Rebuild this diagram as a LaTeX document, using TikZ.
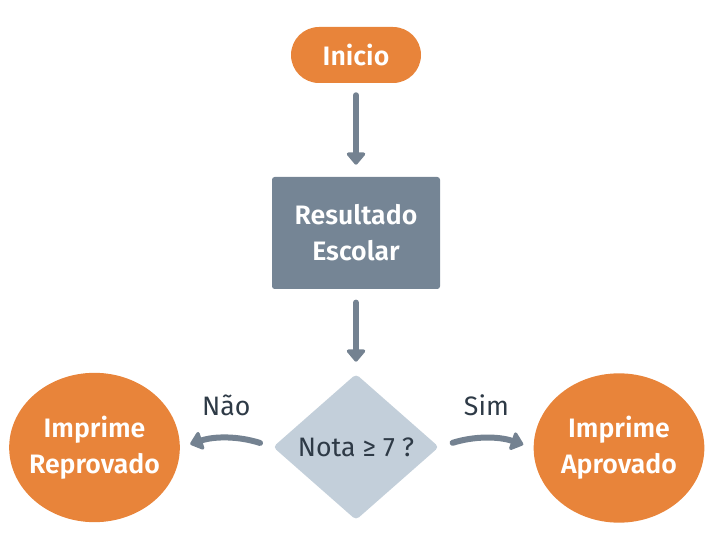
\documentclass[tikz,border=0pt]{standalone}
\usepackage{fontspec}
\setmainfont{Fira Sans}[BoldFont = * SemiBold]
\usetikzlibrary{arrows.meta, shapes.geometric, positioning}
\definecolor{orangefill}{HTML}{E8843A}
\definecolor{slatebox}{HTML}{758595}
\definecolor{diamondfill}{HTML}{C3CFDA}
\definecolor{arrowgray}{HTML}{748291}
\definecolor{textdark}{HTML}{2E3A46}

\begin{document}
\begin{tikzpicture}[x = 0.75pt, y = -0.75pt,
  every node/.style = {font = \fontsize{20}{27}\selectfont, align = center, inner sep = 0pt},
  whitetext/.style = {text = white, font = \fontsize{20}{27}\selectfont\bfseries},
  startnode/.style = {whitetext, fill = orangefill, rounded corners = 21pt, minimum width = 97.5pt, minimum height = 42pt},
  procbox/.style = {whitetext, fill = slatebox, rounded corners = 2pt, minimum width = 126pt, minimum height = 84pt},
  decision/.style = {diamond, fill = diamondfill, text = textdark, rounded corners = 3pt, minimum width = 124.5pt, minimum height = 109.5pt},
  endcircle/.style = {whitetext, ellipse, fill = orangefill, inner sep = -12pt, minimum width = 128pt, minimum height = 112pt},
  flowarrow/.style = {draw = arrowgray, line width = 4.5pt, line cap = round, -{Triangle[width = 16pt, length = 10pt, round]}},
  branchlabel/.style = {text = textdark, above = 15pt, midway}]

  \useasboundingbox (0, 0) rectangle (713, 555);

  % blocks
  \node[startnode] (inicio) at (356, 55) {Inicio};
  \node[procbox] (resultado) at (356, 233) {Resultado\\Escolar};
  \node[decision] (nota) at (356, 447) {Nota ≥ 7 ?};
  \node[endcircle] (reprovado) at (94.5, 447.5) {Imprime\\Reprovado};
  \node[endcircle] (aprovado) at (619, 448) {Imprime\\Aprovado};

  % arrows
  \draw[flowarrow, shorten < = 9pt, shorten > = 9pt] (inicio) -- (resultado);
  \draw[flowarrow, shorten < = 10pt, shorten > = 9pt] (resultado) -- (nota);
  \draw[flowarrow, shorten < = 10pt, shorten > = 8pt] (nota.west) to[bend right = 18] node[branchlabel] (nao) {Não} (reprovado.east);
  \draw[flowarrow, shorten < = 10.5pt, shorten > = 8pt] (nota.east) to[bend left = 18] node[branchlabel] (sim) {Sim} (aprovado.west);

\end{tikzpicture}
\end{document}
